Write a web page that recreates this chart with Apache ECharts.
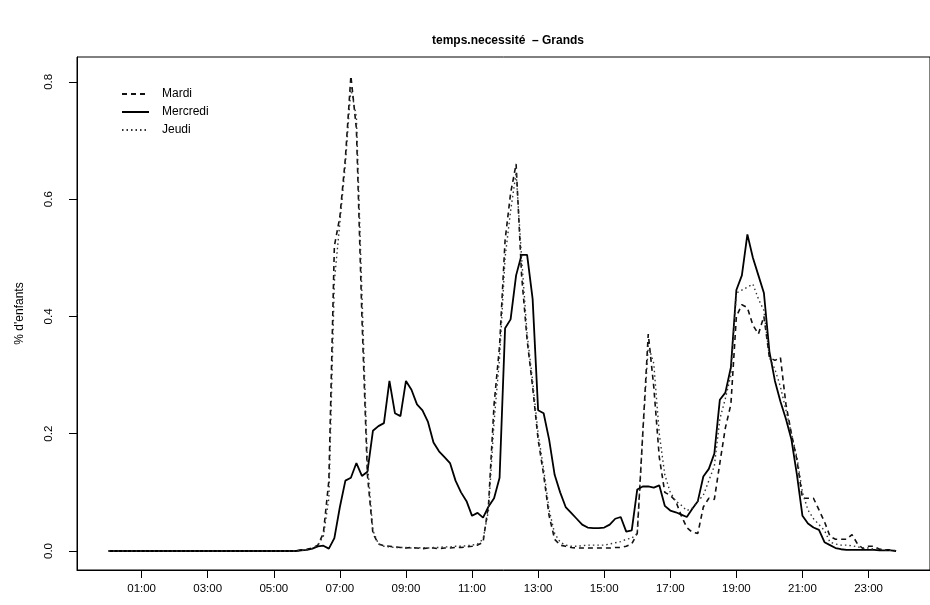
<!DOCTYPE html>
<html>
<head>
<meta charset="utf-8">
<script src="https://cdn.jsdelivr.net/npm/echarts@6/dist/echarts.min.js"></script>
<style>
html,body{margin:0;padding:0;background:#fff;}
#chart{width:930px;height:605px;}
</style>
</head>
<body>
<div id="chart"></div>
<script>
// Time grid: one value every 10 minutes, from 00:00 to 23:50
var stepMinutes = 10;

// Tick positions (hours) and their labels
var xTickHours = [1, 3, 5, 7, 9, 11, 13, 15, 17, 19, 21, 23];
var xTickLabels = ["01:00", "03:00", "05:00", "07:00", "09:00", "11:00", "13:00", "15:00", "17:00", "19:00", "21:00", "23:00"];
var yTickValues = [0, 0.2, 0.4, 0.6, 0.8];
var yTickLabels = ["0.0", "0.2", "0.4", "0.6", "0.8"];

var seriesNames = ["Mardi", "Mercredi", "Jeudi"];

// Mardi (dashed) - one row per hour, 6 values per row (10-min steps)
var mardi = [
  0,0,0,0,0,0,
  0,0,0,0,0,0,
  0,0,0,0,0,0,
  0,0,0,0,0,0,
  0,0,0,0,0,0,
  0,0,0,0,0,0.002,
  0.003,0.005,0.01,0.03,0.12,0.52,
  0.57,0.67,0.81,0.72,0.40,0.13,
  0.03,0.012,0.009,0.008,0.007,0.006,
  0.005,0.006,0.005,0.004,0.005,0.005,
  0.004,0.005,0.005,0.006,0.006,0.007,
  0.008,0.01,0.015,0.08,0.25,0.35,
  0.53,0.61,0.66,0.47,0.36,0.28,
  0.19,0.13,0.06,0.02,0.01,0.008,
  0.006,0.005,0.005,0.005,0.005,0.005,
  0.005,0.005,0.006,0.006,0.008,0.012,
  0.03,0.2,0.37,0.28,0.16,0.1,
  0.095,0.085,0.06,0.04,0.032,0.03,
  0.075,0.09,0.088,0.15,0.21,0.25,
  0.4,0.42,0.415,0.385,0.37,0.4,
  0.33,0.325,0.33,0.25,0.2,0.155,
  0.09,0.09,0.09,0.07,0.05,0.025,
  0.02,0.02,0.02,0.028,0.012,0.004,
  0.008,0.008,0.003,0.002,0.002,0
];

// Mercredi (solid)
var mercredi = [
  0,0,0,0,0,0,
  0,0,0,0,0,0,
  0,0,0,0,0,0,
  0,0,0,0,0,0,
  0,0,0,0,0,0,
  0,0,0,0,0,0.001,
  0.002,0.004,0.008,0.009,0.004,0.022,
  0.075,0.12,0.125,0.15,0.128,0.135,
  0.205,0.213,0.218,0.29,0.235,0.23,
  0.29,0.275,0.25,0.24,0.22,0.185,
  0.17,0.16,0.15,0.12,0.1,0.085,
  0.06,0.065,0.057,0.076,0.09,0.125,
  0.38,0.395,0.47,0.505,0.505,0.43,
  0.24,0.235,0.19,0.13,0.1,0.075,
  0.065,0.055,0.045,0.04,0.039,0.039,
  0.04,0.045,0.055,0.058,0.033,0.035,
  0.105,0.11,0.11,0.108,0.112,0.077,
  0.069,0.066,0.062,0.058,0.072,0.085,
  0.127,0.14,0.166,0.258,0.27,0.313,
  0.445,0.47,0.54,0.5,0.47,0.44,
  0.34,0.29,0.255,0.225,0.19,0.13,
  0.06,0.047,0.04,0.036,0.015,0.01,
  0.005,0.003,0.002,0.002,0.002,0.002,
  0.002,0.002,0.001,0.001,0.001,0
];

// Jeudi (dotted)
var jeudi = [
  0,0,0,0,0,0,
  0,0,0,0,0,0,
  0,0,0,0,0,0,
  0,0,0,0,0,0,
  0,0,0,0,0,0,
  0,0,0,0,0,0.001,
  0.002,0.004,0.01,0.025,0.09,0.46,
  0.56,0.66,0.79,0.74,0.44,0.15,
  0.035,0.012,0.008,0.007,0.006,0.006,
  0.006,0.005,0.005,0.006,0.005,0.006,
  0.006,0.007,0.007,0.008,0.008,0.009,
  0.01,0.012,0.02,0.07,0.22,0.33,
  0.5,0.58,0.645,0.5,0.37,0.29,
  0.2,0.14,0.07,0.03,0.015,0.01,
  0.008,0.008,0.009,0.01,0.01,0.01,
  0.01,0.012,0.014,0.016,0.02,0.022,
  0.03,0.2,0.35,0.32,0.2,0.13,
  0.1,0.085,0.078,0.069,0.073,0.085,
  0.095,0.12,0.145,0.225,0.26,0.3,
  0.44,0.445,0.45,0.455,0.43,0.41,
  0.33,0.31,0.28,0.24,0.2,0.16,
  0.1,0.07,0.055,0.045,0.035,0.015,
  0.012,0.01,0.01,0.009,0.007,0.005,
  0.005,0.003,0.003,0.002,0.001,0
];

function toPairs(values) {
  var out = [];
  for (var i = 0; i < values.length; i++) {
    out.push([i * stepMinutes / 60, values[i]]);
  }
  return out;
}

var FONT = "'Liberation Sans', Arial, Helvetica, sans-serif";

var chart = echarts.init(document.getElementById('chart'), null, {renderer: 'canvas'});
chart.setOption({
  animation: false,
  backgroundColor: '#ffffff',
  title: {
    text: 'temps.necessité  – Grands',
    left: 508,
    top: 35,
    padding: 0,
    textAlign: 'center',
    textStyle: {fontFamily: FONT, fontSize: 12, fontWeight: 'bold', color: '#000'}
  },
  legend: {
    data: seriesNames,
    orient: 'vertical',
    left: 121,
    top: 88,
    padding: 0,
    itemWidth: 27,
    itemHeight: 14,
    itemGap: 6,
    itemStyle: {opacity: 0},
    textStyle: {fontFamily: FONT, fontSize: 12, color: '#000', padding: [0, 0, 0, 8]}
  },
  grid: {
    left: 77, top: 57, right: -8, bottom: 35,
    show: true, borderColor: '#000', borderWidth: 1, backgroundColor: 'transparent'
  },
  xAxis: {
    type: 'value',
    min: -0.956,
    max: 24.86,
    axisLine: {show: true, onZero: false, lineStyle: {color: '#000', width: 1}},
    axisTick: {show: true, length: 8, customValues: xTickHours, lineStyle: {color: '#000'}},
    axisLabel: {
      show: true, margin: 13, customValues: xTickHours,
      fontFamily: FONT, fontSize: 11.5, color: '#000',
      formatter: function (v) {
        var idx = xTickHours.indexOf(v);
        return idx >= 0 ? xTickLabels[idx] : '';
      }
    },
    splitLine: {show: false}
  },
  yAxis: {
    type: 'value',
    min: -0.0324,
    max: 0.8424,
    name: "% d'enfants",
    nameLocation: 'middle',
    nameRotate: 90,
    nameGap: 51,
    nameTextStyle: {fontFamily: FONT, fontSize: 12, color: '#000'},
    axisLine: {show: true, onZero: false, lineStyle: {color: '#000', width: 1}},
    axisTick: {show: true, length: 8, customValues: yTickValues, lineStyle: {color: '#000'}},
    axisLabel: {
      show: true, margin: 22, rotate: 90, customValues: yTickValues,
      fontFamily: FONT, fontSize: 11.5, color: '#000',
      formatter: function (v) {
        for (var i = 0; i < yTickValues.length; i++) {
          if (Math.abs(yTickValues[i] - v) < 1e-9) return yTickLabels[i];
        }
        return '';
      }
    },
    splitLine: {show: false}
  },
  series: [
    {
      name: 'Mardi', type: 'line', data: toPairs(mardi), symbol: 'none', smooth: false,
      itemStyle: {color: '#111'},
      lineStyle: {color: '#111', width: 1.6, type: [5, 4]}
    },
    {
      name: 'Mercredi', type: 'line', data: toPairs(mercredi), symbol: 'none', smooth: false,
      itemStyle: {color: '#000'},
      lineStyle: {color: '#000', width: 1.8, type: 'solid'}
    },
    {
      name: 'Jeudi', type: 'line', data: toPairs(jeudi), symbol: 'none', smooth: false,
      itemStyle: {color: '#333'},
      lineStyle: {color: '#333', width: 1.4, type: [1.5, 3]}
    }
  ]
});
</script>
</body>
</html>
